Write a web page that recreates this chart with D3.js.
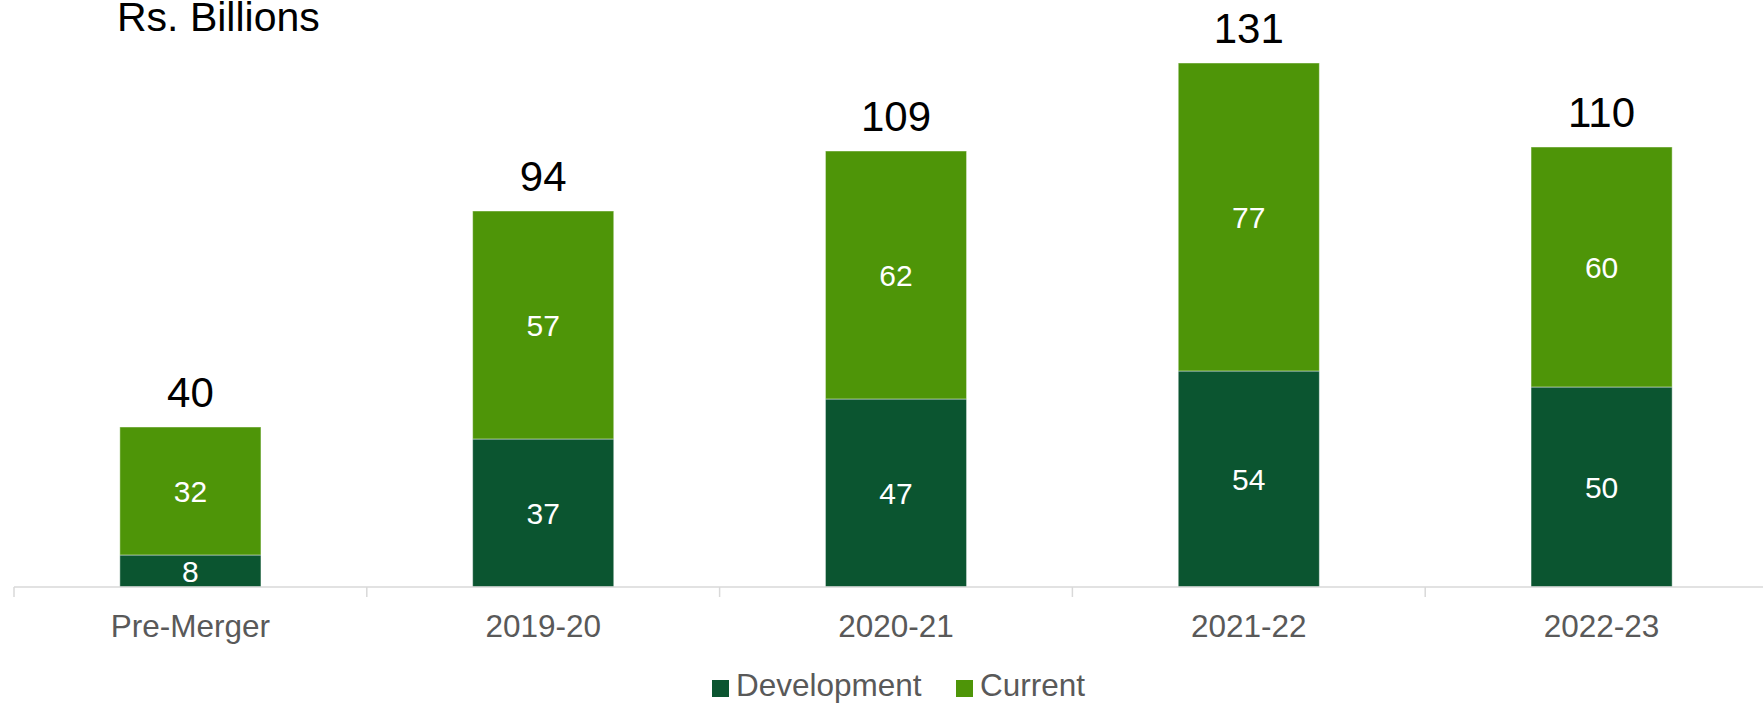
<!DOCTYPE html>
<html>
<head>
<meta charset="utf-8">
<script src="https://cdn.jsdelivr.net/npm/d3@7/dist/d3.min.js"></script>
<style>
  html, body { margin: 0; padding: 0; background: #fff; }
  svg { display: block; font-family: "Liberation Sans", Arial, sans-serif; }
</style>
</head>
<body>
<svg id="chart" width="1763" height="704"></svg>
<script>
// chart data
const categories = ["Pre-Merger", "2019-20", "2020-21", "2021-22", "2022-23"];
const development = [8, 37, 47, 54, 50];
const current = [32, 57, 62, 77, 60];
const seriesNames = ["Development", "Current"];
const seriesColors = ["#0b5530", "#4e9508"];

const svg = d3.select("#chart");
const baseY = 587;

let rows = categories.map((c, i) => ({cat: c, Development: development[i], Current: current[i]}));
let stack = d3.stack().keys(seriesNames)(rows);

let x = d3.scaleBand()
    .domain(categories)
    .range([14, 1778])
    .paddingInner(0.6)
    .paddingOuter(0.3);

let y = d3.scaleLinear()
    .domain([0, 140])
    .range([baseY, baseY - 140 * 4]);

// title
svg.append("text")
    .attr("x", 117).attr("y", 31)
    .attr("font-size", 41)
    .attr("fill", "#000")
    .text("Rs. Billions");

// bars
let layers = svg.selectAll("g.layer").data(stack).join("g")
    .attr("class", "layer")
    .attr("fill", (d, i) => seriesColors[i]);

layers.selectAll("rect").data(d => d).join("rect")
    .attr("x", d => x(d.data.cat))
    .attr("width", x.bandwidth())
    .attr("y", d => y(d[1]))
    .attr("height", d => y(d[0]) - y(d[1]))
    .attr("stroke", "rgba(255,255,255,0.45)")
    .attr("stroke-width", 1);

// segment labels
layers.selectAll("text").data(d => d).join("text")
    .attr("x", d => x(d.data.cat) + x.bandwidth() / 2)
    .attr("y", d => (y(d[0]) + y(d[1])) / 2)
    .attr("dy", "0.36em")
    .attr("text-anchor", "middle")
    .attr("font-size", 30)
    .attr("fill", "#fff")
    .text(d => d[1] - d[0]);

// totals above each bar
svg.selectAll("text.total").data(rows).join("text")
    .attr("class", "total")
    .attr("x", d => x(d.cat) + x.bandwidth() / 2)
    .attr("y", d => y(d.Development + d.Current) - 20)
    .attr("text-anchor", "middle")
    .attr("font-size", 42)
    .attr("fill", "#000")
    .text(d => d.Development + d.Current);

// x axis: baseline + ticks between categories
let axisG = svg.append("g");
axisG.append("line")
    .attr("x1", x.range()[0]).attr("x2", x.range()[1])
    .attr("y1", baseY).attr("y2", baseY)
    .attr("stroke", "#d9d9d9").attr("stroke-width", 1.5);

let step = x.step();
let bounds = categories.map((c, i) => x.range()[0] + i * step);
axisG.selectAll("line.tick").data(bounds).join("line")
    .attr("class", "tick")
    .attr("x1", d => d).attr("x2", d => d)
    .attr("y1", baseY).attr("y2", baseY + 10)
    .attr("stroke", "#d9d9d9").attr("stroke-width", 1.5);

axisG.selectAll("text").data(categories).join("text")
    .attr("x", d => x(d) + x.bandwidth() / 2)
    .attr("y", 637)
    .attr("text-anchor", "middle")
    .attr("font-size", 31.5)
    .attr("fill", "#595959")
    .text(d => d);

// legend
let legend = svg.append("g");
let legendItems = [
    {name: seriesNames[0], color: seriesColors[0], x: 712},
    {name: seriesNames[1], color: seriesColors[1], x: 956}
];
legendItems.forEach(it => {
    legend.append("rect")
        .attr("x", it.x).attr("y", 680)
        .attr("width", 17).attr("height", 17)
        .attr("fill", it.color);
    legend.append("text")
        .attr("x", it.x + 24).attr("y", 696)
        .attr("font-size", 31.5)
        .attr("fill", "#595959")
        .text(it.name);
});
</script>
</body>
</html>
